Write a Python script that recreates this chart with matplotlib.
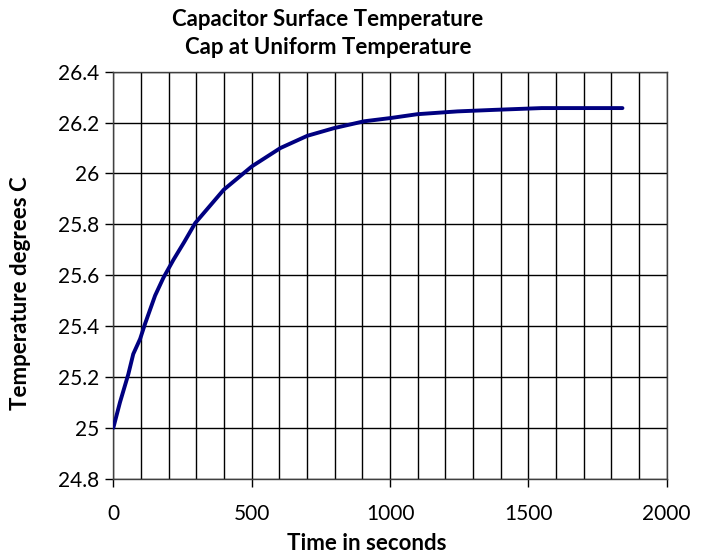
import matplotlib
matplotlib.use("Agg")
import matplotlib.pyplot as plt
from matplotlib.ticker import MultipleLocator, FuncFormatter

plt.rcParams["font.family"] = ["Lato", "DejaVu Sans"]

# values
time_s = [0, 24, 54, 72, 97, 115, 151, 181, 217, 256, 296, 399, 501, 604,
          701, 797, 906, 1003, 1099, 1244, 1377, 1548, 1840]
temp_c = [25.0, 25.10, 25.21, 25.29, 25.35, 25.41, 25.52, 25.59, 25.66, 25.73,
          25.805, 25.936, 26.028, 26.10, 26.148, 26.178, 26.205, 26.218,
          26.233, 26.244, 26.25, 26.257, 26.257]

title_lines = ["Capacitor Surface Temperature", "Cap at Uniform Temperature"]
x_label = "Time in seconds"
y_label = "Temperature degrees C"

fig = plt.figure(figsize=(7.03, 5.55), dpi=100)
ax = fig.add_axes([0.1612, 0.1375, 0.7872, 0.7333])

ax.plot(time_s, temp_c, color="#000080", linewidth=2.8,
        solid_capstyle="round", zorder=3)

ax.set_xlim(0, 2000)
ax.set_ylim(24.8, 26.4)
ax.xaxis.set_major_locator(MultipleLocator(500))
ax.xaxis.set_minor_locator(MultipleLocator(100))
ax.yaxis.set_major_locator(MultipleLocator(0.2))

ax.grid(True, which="both", axis="x", color="black", linewidth=1.0)
ax.grid(True, which="major", axis="y", color="black", linewidth=1.0)
ax.tick_params(axis="x", which="minor", length=0)
ax.tick_params(axis="both", which="major", direction="out", length=6,
               width=1.0, labelsize=15, colors="black")
ax.tick_params(axis="x", pad=12)
ax.tick_params(axis="y", pad=4)

ax.yaxis.set_major_formatter(
    FuncFormatter(lambda v, p: ("%.1f" % v).rstrip("0").rstrip(".")))

for s in ax.spines.values():
    s.set_color("#404040")
    s.set_linewidth(1.0)

fig.text(328 / 703, 1 - 19 / 555, title_lines[0], ha="center", va="center",
         fontsize=16, fontweight="bold")
fig.text(328 / 703, 1 - 48 / 555, title_lines[1], ha="center", va="center",
         fontsize=16, fontweight="bold")
fig.text(367 / 703, 1 - 543 / 555, x_label, ha="center", va="center",
         fontsize=16, fontweight="bold")
fig.text(21 / 703, 1 - 293 / 555, y_label, ha="center", va="center",
         rotation=90, fontsize=16, fontweight="bold")

fig.savefig("out.png", dpi=100)
